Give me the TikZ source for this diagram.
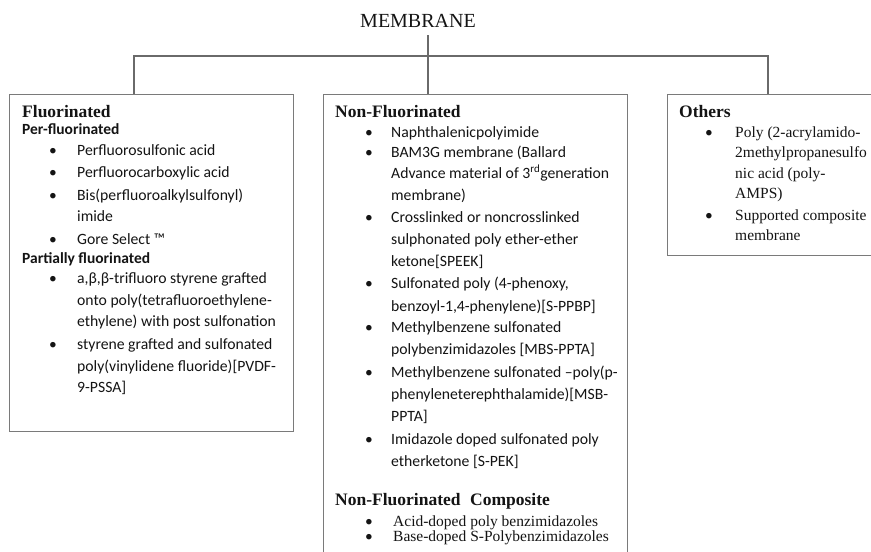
\documentclass[tikz,border=0pt]{standalone}
\usepackage{fontspec}
\setmainfont{Liberation Serif}
\newfontfamily\calib{Carlito}
\definecolor{linkgray}{HTML}{6A6A6A}
\definecolor{boxgray}{HTML}{7A7A7A}
\definecolor{ink}{HTML}{141414}
\begin{document}
\begin{tikzpicture}[x=1pt,y=-1pt,
  frame/.style={draw=boxgray, line width=1.3pt, inner sep=0pt, anchor=north west},
  link/.style={draw=linkgray, line width=1.2pt},
  head/.style={anchor=base west, inner sep=0pt, text=ink, font=\fontsize{17.5}{20}\selectfont\bfseries},
  subhead/.style={anchor=base west, inner sep=0pt, text=ink, font=\calib\fontsize{15.5}{20}\selectfont\bfseries},
  cal/.style={anchor=base west, inner sep=0pt, text=ink, font=\calib\fontsize{15.7}{20}\selectfont},
  rom/.style={anchor=base west, inner sep=0pt, text=ink, font=\fontsize{15.5}{20}\selectfont},
  dot/.style={anchor=base, inner sep=0pt, text=ink, font=\calib\fontsize{15.5}{20}\selectfont}
]
\useasboundingbox[fill=white] (0,0) rectangle (871,552);

% title and the three category boxes
\node[anchor=base, inner xsep=0pt, inner ysep=8pt, text=ink,
      font=\fontsize{20}{22}\selectfont] (mem) at (418,27) {MEMBRANE};
\node[frame, minimum width=284pt, minimum height=337pt] (fluor) at (9,94) {};
\node[frame, minimum width=304pt, minimum height=470pt] (nonfl) at (323,94) {};
\node[frame, minimum width=215pt, minimum height=161pt] (others) at (667,94) {};

% tree connectors
\coordinate (hub) at (428,56);
\coordinate (lj) at (134,56);
\coordinate (rj) at (768,56);
\draw[link] (mem.south -| hub) -- (hub |- nonfl.north);
\draw[link] (lj |- fluor.north) -- (lj) -- (rj) -- (rj |- others.north);

% Fluorinated
\node[head] (h-fl) at (22,117) {Fluorinated};
\node[subhead] (h-per) at (22,134) {Per-fluorinated};
\node[subhead] (h-part) at (22,263) {Partially fluorinated};
\foreach \yy/\txt [count=\k] in {155/{Perfluorosulfonic acid}, 177/{Perfluorocarboxylic acid},
    200/{Bis(perfluoroalkylsulfonyl)}, 221/{imide}, 244/{Gore Select ™},
    283/{a,β,β-trifluoro styrene grafted}, 305/{onto poly(tetrafluoroethylene-},
    326/{ethylene) with post sulfonation}, 349/{styrene grafted and sulfonated},
    371/{poly(vinylidene fluoride)[PVDF-}, 392/{9-PSSA]}}
  \node[cal] (fl-\k) at (77,\yy) {\txt};
\foreach \yy [count=\k] in {155,177,200,244,283,349}
  \node[dot] (fb-\k) at (53,\yy) {\textbullet};

% Non-Fluorinated
\node[head] (h-nf) at (335,117) {Non-Fluorinated};
\foreach \yy/\txt [count=\k] in {137/{Naphthalenicpolyimide}, 157/{BAM3G membrane (Ballard},
    178/{Advance material of 3\textsuperscript{rd}generation}, 200/{membrane)},
    222/{Crosslinked or noncrosslinked}, 244/{sulphonated poly ether-ether},
    266/{ketone[SPEEK]}, 288/{Sulfonated poly (4-phenoxy,},
    311/{benzoyl-1,4-phenylene)[S-PPBP]}, 332/{Methylbenzene sulfonated},
    354/{polybenzimidazoles [MBS-PPTA]}, 377/{Methylbenzene sulfonated –poly(p-},
    399/{phenyleneterephthalamide)[MSB-}, 421/{PPTA]},
    444/{Imidazole doped sulfonated poly}, 466/{etherketone [S-PEK]}}
  \node[cal] (nf-\k) at (391,\yy) {\txt};
\foreach \yy [count=\k] in {137,157,222,288,332,377,444}
  \node[dot] (nb-\k) at (369,\yy) {\textbullet};

\node[head] (h-nfc) at (335,505) {Non-Fluorinated\hspace{0.55em}Composite};
\node[rom] (nc-1) at (393,526) {Acid-doped poly benzimidazoles};
\node[rom] (nc-2) at (393,541) {Base-doped S-Polybenzimidazoles};
\node[dot] (ncb-1) at (369,526) {\textbullet};
\node[dot] (ncb-2) at (369,541) {\textbullet};

% Others
\node[head] (h-ot) at (679,117) {Others};
\foreach \yy/\txt [count=\k] in {137/{Poly (2-acrylamido-}, 157/{2methylpropanesulfo},
    178/{nic acid (poly-}, 198/{AMPS)}, 220/{Supported composite}, 240/{membrane}}
  \node[rom] (ot-\k) at (735,\yy) {\txt};
\node[dot] (ob-1) at (709,137) {\textbullet};
\node[dot] (ob-2) at (709,220) {\textbullet};
\end{tikzpicture}
\end{document}
